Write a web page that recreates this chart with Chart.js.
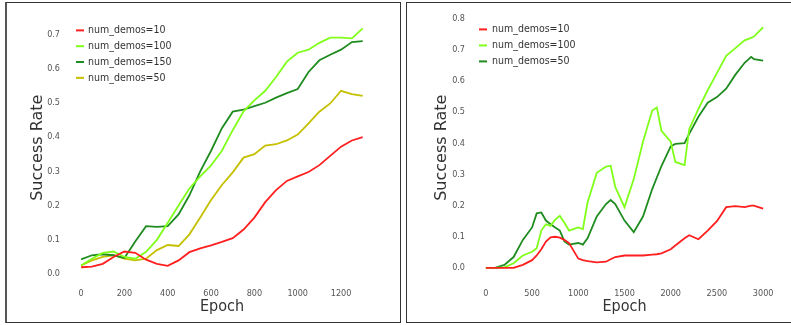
<!DOCTYPE html>
<html>
<head>
<meta charset="utf-8">
<script src="https://cdn.jsdelivr.net/npm/chart.js@4/dist/chart.umd.min.js"></script>
<style>
  html,body{margin:0;padding:0;background:#fff;width:791px;height:325px;overflow:hidden;}
  .box{position:absolute;top:2px;height:319px;border:1px solid #333;background:#fff;}
  #boxL{left:5px;width:393px;border-left:2px solid #555;}
  #boxR{left:406px;width:400px;}
  canvas{position:absolute;left:0;top:0;}
</style>
</head>
<body>
<div class="box" id="boxL"><canvas id="left" width="392" height="318"></canvas></div>
<div class="box" id="boxR"><canvas id="right" width="383" height="318"></canvas></div>
<script>
/*********************
  DATA - left panel
*********************/
const leftEpochs=[0,50,100,150,200,250,300,350,400,450,500,550,600,650,700,750,800,850,900,950,1000,1050,1100,1150,1200,1250,1300];
const leftDemos10 =[0.02,0.022,0.03,0.05,0.066,0.062,0.042,0.03,0.024,0.04,0.064,0.075,0.084,0.094,0.105,0.13,0.165,0.21,0.245,0.272,0.285,0.298,0.318,0.345,0.372,0.39,0.4];
const leftDemos100=[0.025,0.045,0.062,0.066,0.05,0.045,0.065,0.1,0.15,0.2,0.25,0.285,0.317,0.36,0.42,0.475,0.507,0.535,0.575,0.62,0.646,0.655,0.675,0.69,0.69,0.688,0.717];
const leftDemos150=[0.043,0.055,0.058,0.055,0.047,0.095,0.14,0.138,0.14,0.174,0.23,0.3,0.36,0.426,0.474,0.48,0.49,0.5,0.515,0.528,0.54,0.59,0.624,0.64,0.655,0.677,0.68];
const leftDemos50 =[0.025,0.04,0.05,0.055,0.045,0.04,0.045,0.07,0.085,0.082,0.116,0.165,0.216,0.26,0.297,0.34,0.35,0.375,0.379,0.39,0.407,0.44,0.474,0.498,0.535,0.525,0.52];
const leftXTicks=[0,200,400,600,800,1000,1200];
const leftYTicks=[0,0.1,0.2,0.3,0.4,0.5,0.6,0.7];

/*********************
  DATA - right panel
*********************/
const rightEpochs=[0,100,200,300,400,500,550,600,650,700,750,800,850,900,1000,1050,1100,1200,1300,1350,1400,1500,1600,1700,1800,1850,1900,2000,2050,2150,2200,2300,2400,2500,2600,2700,2800,2870,2900,3000];
const rightDemos10 =[0,0,0,0,0.01,0.025,0.04,0.06,0.085,0.098,0.1,0.097,0.09,0.08,0.03,0.025,0.022,0.018,0.02,0.028,0.035,0.04,0.04,0.04,0.043,0.044,0.047,0.06,0.072,0.095,0.105,0.092,0.12,0.15,0.195,0.198,0.195,0.2,0.2,0.19];
const rightDemos100=[0,0,0.002,0.015,0.04,0.052,0.063,0.12,0.14,0.135,0.155,0.167,0.145,0.12,0.13,0.125,0.21,0.305,0.325,0.328,0.26,0.195,0.285,0.405,0.505,0.515,0.44,0.405,0.34,0.33,0.445,0.51,0.57,0.625,0.68,0.705,0.73,0.738,0.742,0.772];
const rightDemos50 =[0,0,0.01,0.035,0.09,0.13,0.175,0.178,0.152,0.14,0.13,0.12,0.085,0.075,0.08,0.075,0.095,0.165,0.205,0.218,0.205,0.152,0.115,0.165,0.253,0.29,0.327,0.39,0.398,0.4,0.43,0.485,0.53,0.548,0.575,0.62,0.658,0.677,0.67,0.665];
const rightXTicks=[0,500,1000,1500,2000,2500,3000];
const rightYTicks=[0,0.1,0.2,0.3,0.4,0.5,0.6,0.7,0.8];

const RED="#ff1f1f", LIME="#7fff1a", DARK="#1f8c1f", OLIVE="#c4c000";
const COND="'DejaVu Sans Condensed','DejaVu Sans',sans-serif";

// legend drawn inside the plot, matplotlib style
const innerLegend={
  id:"innerLegend",
  afterDraw(chart,args,o){
    const {ctx,chartArea:a}=chart;
    ctx.save();
    ctx.font="10.5px "+COND;
    ctx.textBaseline="middle";
    chart.data.datasets.forEach((d,i)=>{
      const y=a.top+o.top+i*o.gap;
      ctx.strokeStyle=d.borderColor;ctx.lineWidth=2;
      ctx.beginPath();ctx.moveTo(a.left+o.x0,y);ctx.lineTo(a.left+o.x1,y);ctx.stroke();
      ctx.fillStyle="#333";
      ctx.fillText(d.label,a.left+o.tx,y);
    });
    ctx.restore();
  }
};

function series(xs,ys,label,color){
  return {label,borderColor:color,backgroundColor:color,borderWidth:1.8,pointRadius:0,tension:0,
    data:xs.map((x,i)=>({x,y:ys[i]}))};
}

function makeChart(id,datasets,s){
  return new Chart(document.getElementById(id),{
    type:"line",
    data:{datasets},
    plugins:[innerLegend],
    options:{
      responsive:false,animation:false,
      layout:{padding:{left:0,right:s.padR,top:s.padT,bottom:0}},
      plugins:{legend:{display:false},tooltip:{enabled:false},innerLegend:s.legend},
      scales:{
        x:{type:"linear",min:s.xmin,max:s.xmax,
          grid:{display:false,drawTicks:false},border:{display:false},
          afterFit(sc){sc.height=41;},
          afterBuildTicks(sc){sc.ticks=s.xticks.map(v=>({value:v}));},
          ticks:{autoSkip:false,padding:8,color:"#555",maxRotation:0,
            font:{family:COND,size:9},callback:v=>v},
          title:{display:true,text:"Epoch",color:"#333",padding:{top:0,bottom:5},
            font:{family:COND,size:16}}},
        y:{min:s.ymin,max:s.ymax,
          grid:{display:false,drawTicks:false},border:{display:false},
          afterFit(sc){sc.width=s.yw;},
          afterBuildTicks(sc){sc.ticks=s.yticks.map(v=>({value:v}));},
          ticks:{autoSkip:false,padding:7,color:"#555",
            font:{family:COND,size:9},callback:v=>(+v).toFixed(1)},
          title:{display:true,text:"Success Rate",color:"#333",padding:{top:s.ytPad,bottom:0},
            font:{family:"'DejaVu Sans',sans-serif",size:16}}}
      }
    }
  });
}

/*********************
  LEFT
*********************/
makeChart("left",[
  series(leftEpochs,leftDemos10,"num_demos=10",RED),
  series(leftEpochs,leftDemos100,"num_demos=100",LIME),
  series(leftEpochs,leftDemos150,"num_demos=150",DARK),
  series(leftEpochs,leftDemos50,"num_demos=50",OLIVE)
],{padR:22,padT:7,yw:60,ytPad:21,xmin:-65,xmax:1366,ymin:-0.0172,ymax:0.755,
   xticks:leftXTicks,yticks:leftYTicks,
   legend:{x0:9,x1:17,tx:21,top:15,gap:15.8}});

/*********************
  RIGHT
*********************/
makeChart("right",[
  series(rightEpochs,rightDemos10,"num_demos=10",RED),
  series(rightEpochs,rightDemos100,"num_demos=100",LIME),
  series(rightEpochs,rightDemos50,"num_demos=50",DARK)
],{padR:13,padT:9,yw:65,ytPad:25,xmin:-150,xmax:3150,ymin:-0.0386,ymax:0.81,
   xticks:rightXTicks,yticks:rightYTicks,
   legend:{x0:7,x1:15,tx:20,top:14,gap:16}});
</script>
</body>
</html>
